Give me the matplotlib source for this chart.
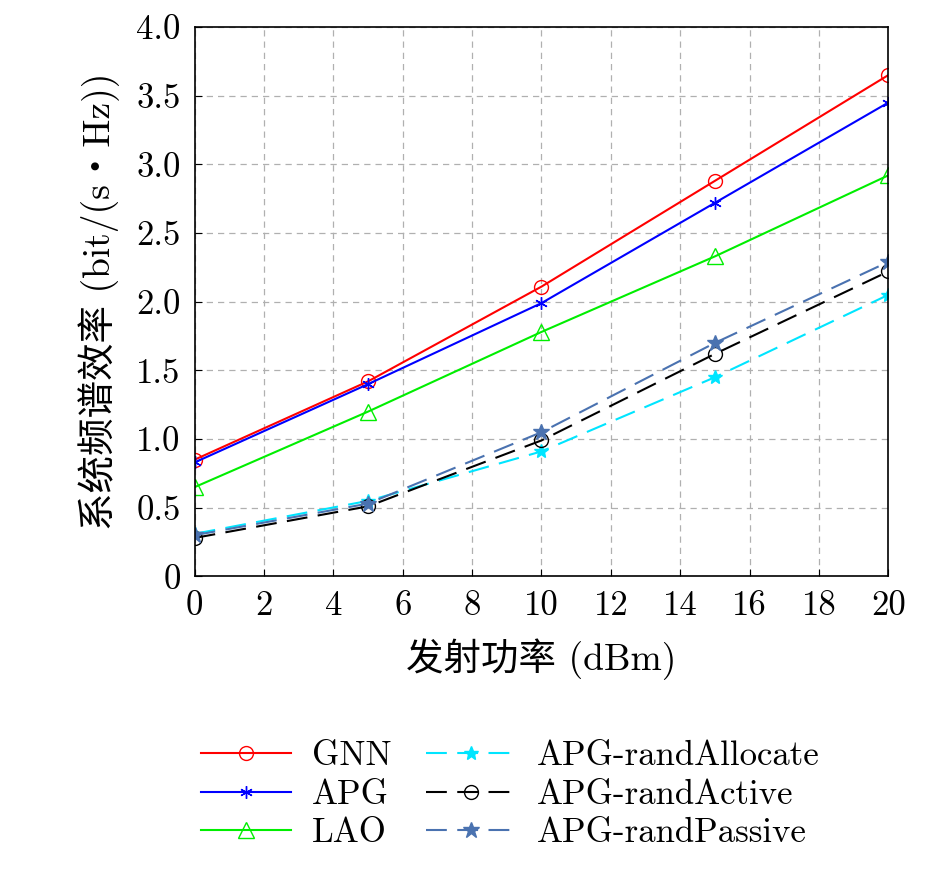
import matplotlib
matplotlib.use("Agg")
import matplotlib.pyplot as plt
plt.rcParams['font.family'] = ['cmr10', 'Noto Sans CJK SC', 'DejaVu Serif']
plt.rcParams['axes.formatter.use_mathtext'] = True

x = [0, 5, 10, 15, 20]
gnn = [0.85, 1.42, 2.11, 2.88, 3.65]
apg = [0.83, 1.40, 1.99, 2.72, 3.45]
lao = [0.65, 1.20, 1.78, 2.33, 2.92]
rand_alloc = [0.31, 0.55, 0.91, 1.45, 2.05]
rand_active = [0.28, 0.51, 0.99, 1.62, 2.22]
rand_passive = [0.30, 0.53, 1.05, 1.70, 2.29]
labels = ['GNN', 'APG', 'LAO', 'APG-randAllocate', 'APG-randActive', 'APG-randPassive']

fig = plt.figure(figsize=(9.45, 8.72), dpi=100)
ax = fig.add_axes([0.206, 0.339, 0.734, 0.630])
dash = (0, (10, 5))
l1, = ax.plot(x, gnn, color='red', marker='o', mfc='none', ms=10, lw=1.5)
l2, = ax.plot(x, apg, color='blue', marker=(6, 2, 0), ms=9, lw=1.5)
l3, = ax.plot(x, lao, color='#00ee00', marker='^', mfc='none', ms=11, lw=1.5)
l4, = ax.plot(x, rand_alloc, color='#00e5ff', marker='*', ms=10, lw=1.5, ls=dash)
l5, = ax.plot(x, rand_active, color='black', marker='o', mfc='none', ms=10, lw=1.5, ls=dash)
l6, = ax.plot(x, rand_passive, color='#4a72b0', marker='*', ms=12, lw=1.5, ls=dash)

ax.set_xlim(0, 20)
ax.set_ylim(0, 4)
ax.set_xticks(range(0, 21, 2))
ax.set_xticklabels([str(v) for v in range(0, 21, 2)])
yt = [0, 0.5, 1, 1.5, 2, 2.5, 3, 3.5, 4]
ax.set_yticks(yt)
ax.set_yticklabels(['0'] + [f'{v:.1f}' for v in yt[1:]])
ax.tick_params(labelsize=25, direction='in', length=5, pad=10)
ax.grid(True, ls=(0, (5, 4)), color='#b0b0b0', lw=0.9)
for s in ax.spines.values():
    s.set_linewidth(1.2)
ax.set_xlabel('发射功率 (dBm)', fontsize=27, labelpad=12)
ax.set_ylabel('系统频谱效率 (bit/(s·Hz))', fontsize=27, labelpad=12)
fig.legend([l1, l2, l3, l4, l5, l6], labels,
           ncol=2, loc='lower center', bbox_to_anchor=(0.54, -0.01),
           frameon=False, fontsize=25, handlelength=2.6, columnspacing=1.0,
           labelspacing=0.2, handletextpad=0.6)
fig.savefig('out.png', dpi=100)
